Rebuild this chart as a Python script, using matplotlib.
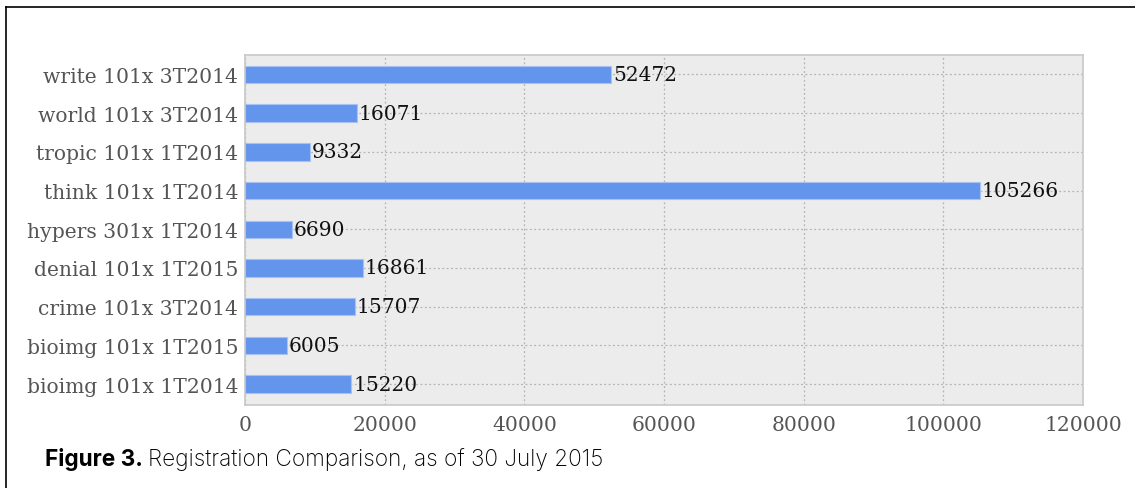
import matplotlib
matplotlib.use("Agg")
import matplotlib.pyplot as plt
from matplotlib.lines import Line2D

categories = ["bioimg 101x 1T2014", "bioimg 101x 1T2015", "crime 101x 3T2014",
              "denial 101x 1T2015", "hypers 301x 1T2014", "think 101x 1T2014",
              "tropic 101x 1T2014", "world 101x 3T2014", "write 101x 3T2014"]
values = [15220, 6005, 15707, 16861, 6690, 105266, 9332, 16071, 52472]
xticks = [0, 20000, 40000, 60000, 80000, 100000, 120000]

fig = plt.figure(figsize=(11.35, 4.89), dpi=100)
ax = fig.add_axes([245/1135, 1-406/489, (1083-245)/1135, (406-56)/489])
ax.set_facecolor("#ececec")
ax.barh(range(len(categories)), values, height=0.45, color="#6495ed",
        edgecolor="#a9c1f0", linewidth=0.8, zorder=3)
for i, v in enumerate(values):
    ax.text(v + 250, i, str(v), va="center", ha="left", fontsize=14.5,
            family="DejaVu Serif", color="#111111", zorder=4)
ax.set_xlim(0, 120000)
ax.set_ylim(-0.54, 8.5)
ax.set_yticks(range(len(categories)))
ax.set_yticklabels(categories, family="DejaVu Serif", fontsize=14.6, color="#555555")
ax.set_xticks(xticks)
ax.set_xticklabels([str(t) for t in xticks], family="DejaVu Serif", fontsize=14.6, color="#555555")
ax.tick_params(length=0, pad=5)
ax.tick_params(axis="x", pad=7)
ax.grid(True, color="#b4b4b4", linestyle=(0, (1.5, 2)), linewidth=0.9, zorder=1)
for s in ax.spines.values():
    s.set_color("#c8c8c8")
    s.set_linewidth(1.2)

# outer frame (top and left edges)
fig.add_artist(Line2D([6/1135, 6/1135], [0, 1-8/489], color="black", linewidth=1.2, transform=fig.transFigure))
fig.add_artist(Line2D([6/1135, 1], [1-8/489, 1-8/489], color="black", linewidth=1.2, transform=fig.transFigure))

t1 = fig.text(45/1135, 1-460/489, "Figure 3.", fontsize=16.3, fontweight="bold",
              family="Inter", va="center", ha="left")
fig.canvas.draw()
bb = t1.get_window_extent()
fig.text((bb.x1 + 5)/1135, 1-460/489, "Registration Comparison, as of 30 July 2015", fontsize=16.3,
         family="Inter", fontweight="light", va="center", ha="left")

fig.savefig("out.png", dpi=100)
